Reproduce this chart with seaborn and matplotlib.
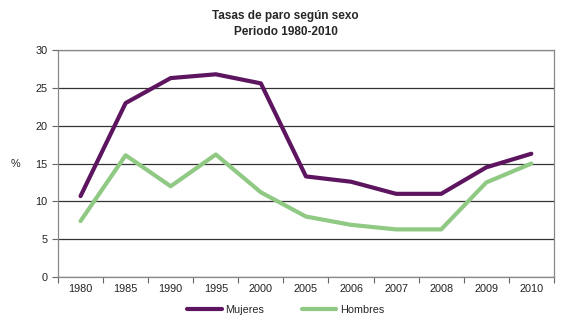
import matplotlib
matplotlib.use("Agg")
import matplotlib.pyplot as plt
import seaborn as sns
import pandas as pd
import numpy as np

years = ["1980", "1985", "1990", "1995", "2000", "2005", "2006", "2007", "2008", "2009", "2010"]
mujeres = [10.7, 23.0, 26.3, 26.8, 25.6, 13.3, 12.6, 11.0, 11.0, 14.5, 16.3]
hombres = [7.4, 16.1, 12.0, 16.2, 11.2, 8.0, 6.9, 6.3, 6.3, 12.5, 15.0]
series_names = ["Mujeres", "Hombres"]
colors = ["#5e1560", "#90c983"]

sns.set_theme(style="white")
plt.rcParams["font.family"] = ["Liberation Sans", "DejaVu Sans"]

df = pd.DataFrame({
    "Año": years * 2,
    "Tasa": mujeres + hombres,
    "Sexo": [series_names[0]] * len(years) + [series_names[1]] * len(years),
})

fig = plt.figure(figsize=(5.71, 3.17), dpi=100)
ax = fig.add_axes([0.1016, 0.126, 0.8684, 0.716])

sns.lineplot(data=df, x="Año", y="Tasa", hue="Sexo", palette=colors,
             linewidth=3.0, ax=ax, legend=True, sort=False)

ax.set_xlim(-0.5, len(years) - 0.5)
ax.set_ylim(0, 30)
ax.set_yticks(range(0, 31, 5))
ax.yaxis.grid(True, color="#333333", linewidth=0.9)
ax.set_axisbelow(True)
for side in ["top", "right", "left", "bottom"]:
    ax.spines[side].set_color("#888888")
    ax.spines[side].set_linewidth(0.9)

ax.set_xticks(range(len(years)))
ax.set_xticklabels(years)
ax.set_xticks(np.arange(-0.5, len(years), 1.0), minor=True)
ax.tick_params(axis="x", which="major", length=0, labelsize=7.8, colors="#222222", pad=5, bottom=True)
ax.tick_params(axis="x", which="minor", length=4, width=0.8, color="#666666", direction="out", bottom=True)
ax.tick_params(axis="y", which="major", length=4, width=0.8, color="#666666", direction="out",
               labelsize=7.8, labelcolor="#222222", left=True)

ax.set_xlabel("")
ax.set_ylabel("%", rotation=0, fontsize=7.8, labelpad=14, va="center")

ax.get_legend().remove()
handles, labels = ax.get_legend_handles_labels()
fig.legend(handles, labels, loc="lower center", bbox_to_anchor=(0.5, -0.025), ncol=2,
           frameon=False, fontsize=7.8, handlelength=3.2, columnspacing=3.5, handletextpad=0.3)

fig.suptitle("Tasas de paro según sexo\nPeriodo 1980-2010", fontsize=8.5, fontweight="bold",
             y=0.97, linespacing=1.45)

fig.savefig("out.png", dpi=100)
